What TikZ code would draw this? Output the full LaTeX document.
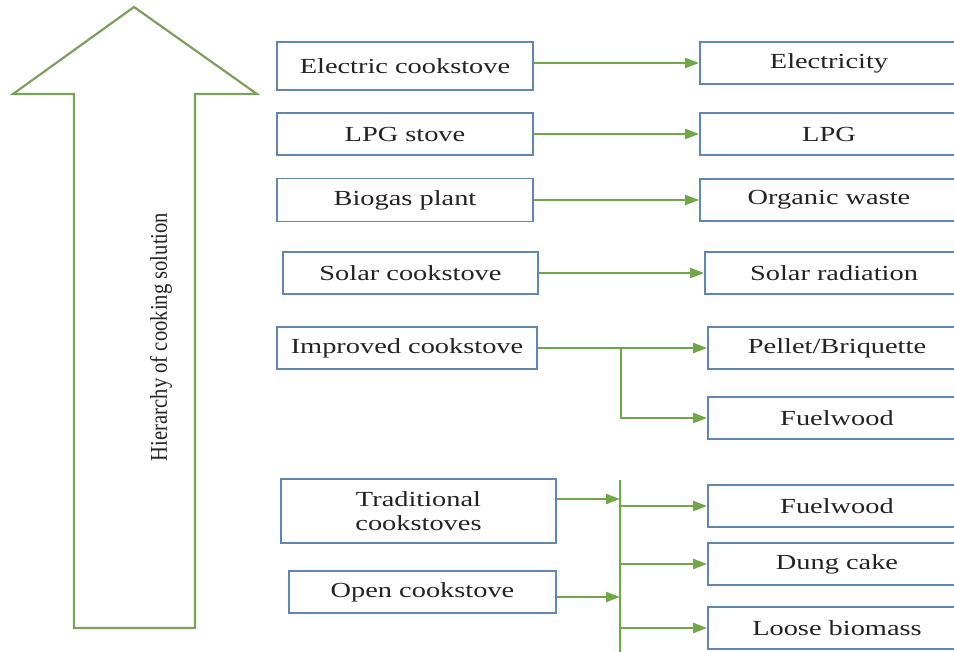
\documentclass[tikz,border=0pt]{standalone}
\usepackage{fontspec}
\setmainfont{Liberation Serif}
\newfontfamily\wideserif[FakeStretch=1.32]{Liberation Serif}
\newfontfamily\narrowserif[FakeStretch=0.86]{Liberation Serif}
\usetikzlibrary{arrows.meta, positioning, calc}
\definecolor{boxblue}{RGB}{95,135,180}
\definecolor{flowgreen}{RGB}{112,168,72}
\definecolor{hiergreen}{RGB}{125,160,95}
\definecolor{textgray}{RGB}{35,35,35}

\begin{document}
\begin{tikzpicture}
  [
  x=1pt, y=-1pt, on grid,
  every node/.style={font=\wideserif\fontsize{21.5}{24}\selectfont, text=textgray},
  stove/.style={draw=boxblue, line width=1.8pt, minimum width=256pt, minimum height=42pt, inner sep=0pt},
  fuel/.style={stove, minimum width=258pt},
  flow/.style={-{Triangle[length=14pt,width=10pt]}, draw=flowgreen, line width=2.2pt},
  bus/.style={draw=flowgreen, line width=2.2pt},
  hier/.style={draw=hiergreen, line width=2.2pt, line join=miter}
  ]
  \fill[white] (0,0) rectangle (954,652);
  \useasboundingbox (0,0) rectangle (954,652);

  % big arrow on the left
  \draw[hier] (134,7) -- (257,94) -- (195,94) -- (195,628) -- (74,628) -- (74,94) -- (13,94) -- cycle;
  \node[rotate=90, font=\narrowserif\fontsize{24}{26}\selectfont] (hier label) at (161,337) {Hierarchy of cooking solution};

  % stoves
  \node[stove, minimum height=48pt, text depth=-2pt]          (elec)  at (405,66)                    {Electric cookstove};
  \node[stove]                                                (lpg)   [below=68pt of elec]           {LPG stove};
  \node[stove, minimum height=43pt]                           (bio)   [below=66pt of lpg]            {Biogas plant};
  \node[stove, minimum width=255pt]                           (solar) [below=73pt of bio, xshift=5.5pt]    {Solar cookstove};
  \node[stove, minimum width=260pt]                           (impr)  [below=75pt of solar, xshift=-3.5pt] {Improved cookstove};
  \node[stove, minimum width=275pt, minimum height=64pt, align=center]
                                                              (trad)  [below=163pt of impr, xshift=11.5pt] {Traditional\\cookstoves};
  \node[stove, minimum width=267pt]                           (open)  [below=81pt of trad, xshift=4pt]     {Open cookstove};

  % fuels
  \node[fuel] (elecy)  [right=424pt of elec, yshift=3pt] {Electricity};
  \node[fuel] (lpgf)   [right=424pt of lpg]              {LPG};
  \node[fuel] (waste)  [right=424pt of bio]              {Organic waste};
  \node[fuel] (rad)    [right=423.5pt of solar]          {Solar radiation};
  \node[fuel] (pellet) [right=430pt of impr]             {Pellet/Briquette};
  \node[fuel] (wood1)  [below=70pt of pellet]            {Fuelwood};
  \node[fuel] (wood2)  [below=88pt of wood1]             {Fuelwood};
  \node[fuel] (dung)   [below=58pt of wood2]             {Dung cake};
  \node[fuel] (loose)  [below=64pt of dung]              {Loose biomass};

  \coordinate[right=83pt of impr.east] (split);
  \coordinate (bus top) at (620,480);
  \coordinate (bus end) at (620,652);

  \draw[flow] (elec.east |- elecy) -- (elecy);
  \draw[flow] (lpg) -- (lpgf);
  \draw[flow] (bio) -- (waste);
  \draw[flow] (solar) -- (rad);
  \draw[flow] (impr) -- (pellet);
  \draw[flow] (split) |- (wood1);

  \draw[bus] (bus top) -- (bus end);
  \draw[flow] ([yshift=12pt]trad.east) -- ([yshift=12pt]trad.east -| bus top);
  \draw[flow] ([yshift=-5pt]open.east) -- ([yshift=-5pt]open.east -| bus top);
  \draw[flow] (bus top |- wood2) -- (wood2);
  \draw[flow] (bus top |- dung) -- (dung);
  \draw[flow] (bus top |- loose) -- (loose);
\end{tikzpicture}
\end{document}
